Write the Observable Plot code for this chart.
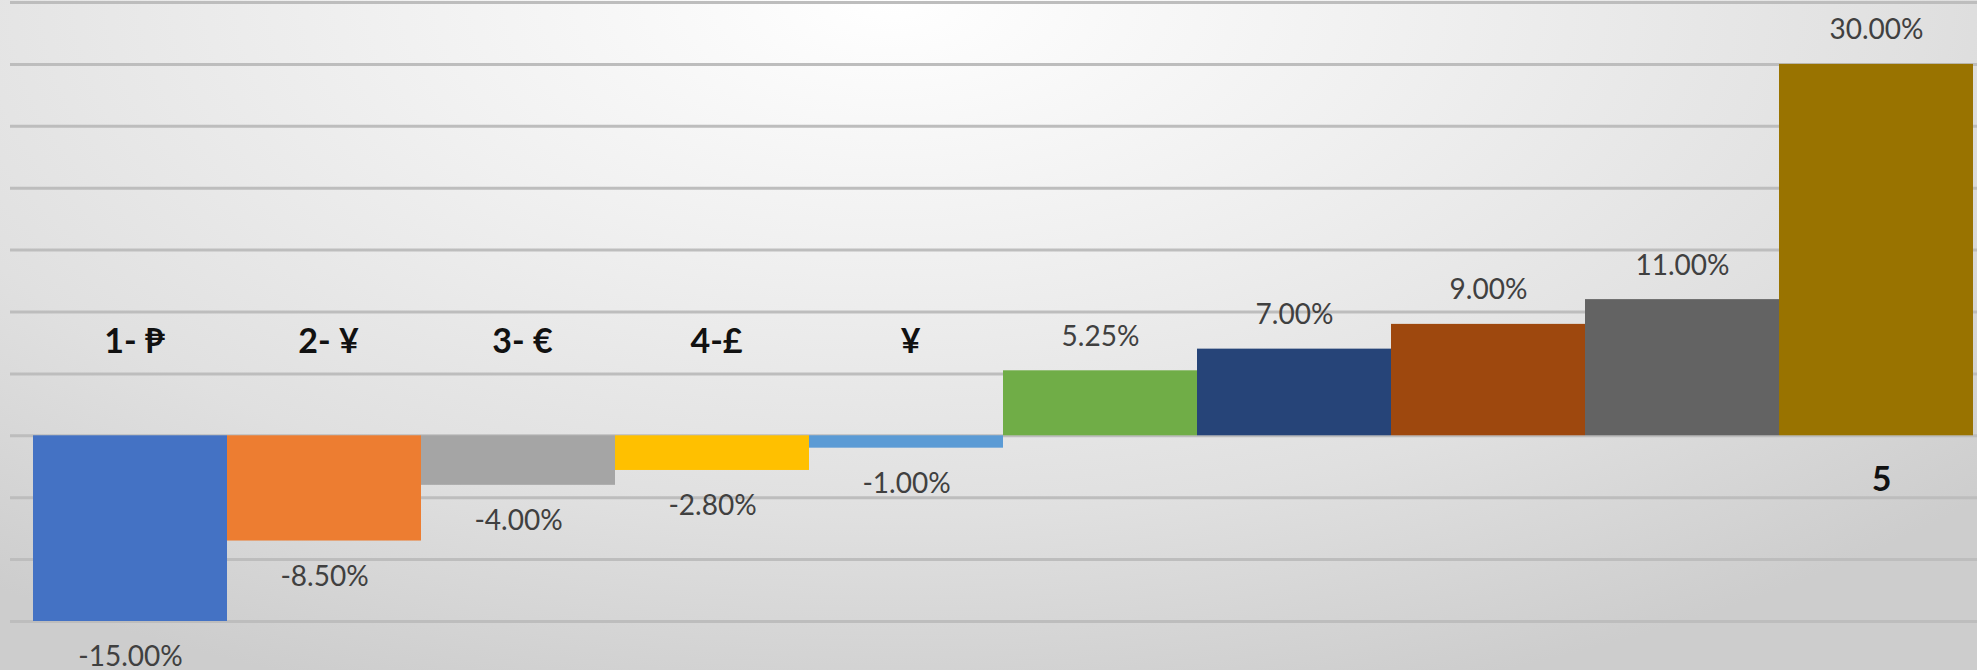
<!DOCTYPE html>
<html>
<head>
<meta charset="utf-8">
<script src="https://cdn.jsdelivr.net/npm/d3@7"></script>
<script src="https://cdn.jsdelivr.net/npm/@observablehq/plot@0.6"></script>
<style>
  html, body { margin: 0; padding: 0; }
  #chart {
    width: 1977px; height: 670px; overflow: hidden;
    background: radial-gradient(ellipse 75% 110% at 45% 0%, #ffffff 0%, #f0f0f0 35%, #e0e0e0 70%, #cdcdcd 100%);
  }
  #chart svg { background: transparent; display: block; }
</style>
</head>
<body>
<div id="chart"></div>
<script>
// Category labels (empty for unlabeled bars)
const labels = ["1- \u20B1", "2- \u00A5", "3- \u20AC", "4-\u00A3", "\u00A5", "", "", "", "", "5"];
// Values in percent
const values = [-15.00, -8.50, -4.00, -2.80, -1.00, 5.25, 7.00, 9.00, 11.00, 30.00];
// Bar colors
const colors = ["#4472C4", "#ED7D31", "#A5A5A5", "#FFC000", "#5B9BD5", "#70AD47", "#264478", "#9E480E", "#636363", "#997300"];
// Gridline values
const gridTicks = [-15, -10, -5, 0, 5, 10, 15, 20, 25, 30, 35];

const data = values.map((v, i) => ({ id: i, label: labels[i], value: v, color: colors[i] }));
const font = "Lato, 'Noto Sans', 'DejaVu Sans', sans-serif";
const fmt = d => d.value.toFixed(2) + "%";

const chart = Plot.plot({
  width: 1977,
  height: 670,
  marginLeft: 33,
  marginRight: 4,
  marginTop: 2,
  marginBottom: 49,
  style: { background: "transparent", fontFamily: font },
  x: { type: "band", domain: data.map(d => d.id), padding: 0, axis: null },
  y: { domain: [-15, 35], axis: null },
  color: { type: "identity" },
  marks: [
    Plot.ruleY(gridTicks, { stroke: "#bdbdbd", strokeWidth: 3, insetLeft: -23, insetRight: -4 }),
    Plot.barY(data, { x: "id", y: "value", fill: "color" }),
    Plot.text(data.filter(d => d.value < 0), {
      x: "id", y: "value", text: fmt,
      dy: 36, fontSize: 28, fill: "#404040", fontFamily: font
    }),
    Plot.text(data.filter(d => d.value >= 0), {
      x: "id", y: "value", text: fmt,
      dy: -34, fontSize: 28, fill: "#404040", fontFamily: font
    }),
    Plot.text(data.filter(d => d.label !== "" && d.value < 0), {
      x: "id", y: () => 0, text: "label", dx: 4, dy: -94,
      fontSize: 34, fontWeight: "bold", fill: "#111", fontFamily: font
    }),
    Plot.text(data.filter(d => d.label !== "" && d.value >= 0), {
      x: "id", y: () => 0, text: "label", dx: 5, dy: 44,
      fontSize: 34, fontWeight: "bold", fill: "#111", fontFamily: font
    })
  ]
});
document.getElementById("chart").appendChild(chart);
</script>
</body>
</html>
